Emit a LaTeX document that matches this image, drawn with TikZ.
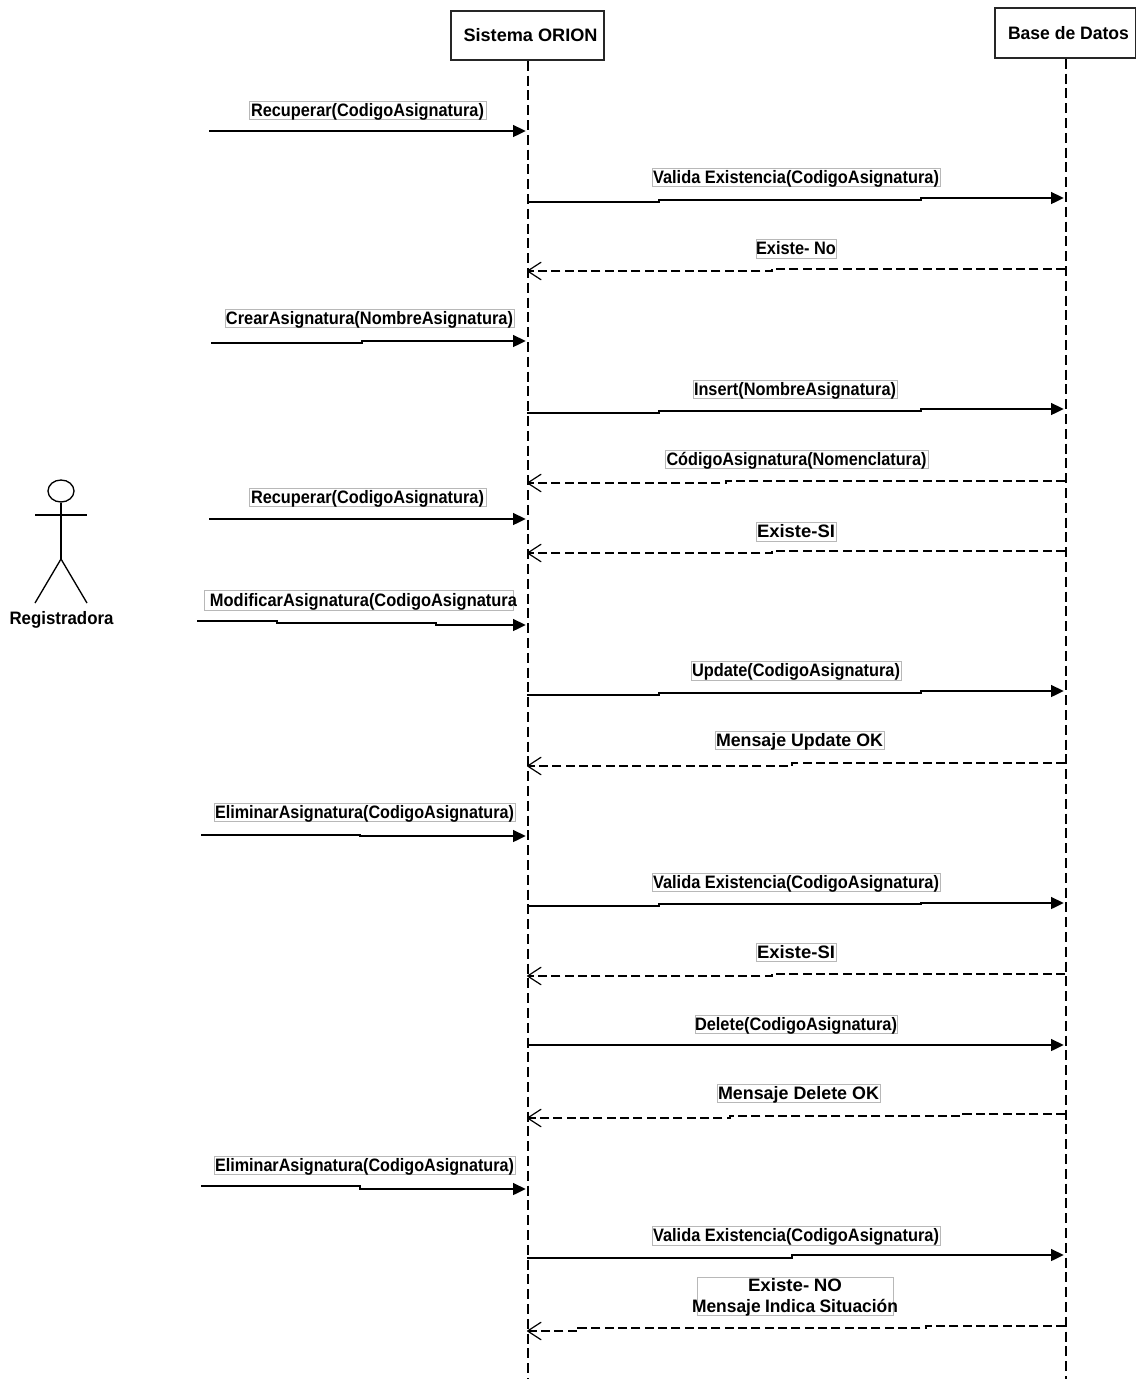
\documentclass[tikz,border=0pt]{standalone}
\usepackage{fontspec}
\usepackage{graphicx}
\setmainfont{Liberation Sans}
\usetikzlibrary{arrows.meta,shapes.geometric}
\newdimen\pxu \pxu=0.75pt
\newcommand{\fitw}[2]{\raisebox{-2\pxu}[\height][\depth]{\resizebox{#1\pxu}{\height}{\bfseries\fontsize{13.5}{15}\selectfont #2}}}
\newcommand{\labshift}{0pt}
\tikzset{
  head/.style={draw=black!85,line width=1.2pt,fill=white,inner sep=0pt},
  lifeline/.style={draw=black,line width=1.5pt,dash pattern=on 7.5pt off 3.6pt},
  sync/.style={draw=black,line width=1.2pt,shorten >=1pt,-{Triangle[length=9.5pt,width=9pt]}},
  reply/.style={draw=black,line width=1.2pt,dash pattern=on 6.8pt off 3.2pt,-{Straight Barb[length=10pt,width=13pt,line width=.9pt,round]}},
  msglabel/.style={draw=black!28,line width=.6pt,fill=white,inner sep=0pt,text=black},
  actorline/.style={draw=black,line width=1pt},
}
% one, two, three segment messages: style, id, coordinates
\newcommand{\msgone}[6]{%
  \coordinate (#2a) at (#3,#5); \coordinate (#2b) at (#4,#6);
  \draw[#1] (#2a) -- (#2b);}
\newcommand{\msgtwo}[7]{%
  \coordinate (#2a) at (#3,#6); \coordinate (#2j) at (#4,#6);
  \coordinate (#2k) at (#4,#7); \coordinate (#2b) at (#5,#7);
  \draw[#1] (#2a) -- (#2j) -- (#2k) -- (#2b);}
\newcommand{\msgthree}[9]{%
  \coordinate (#2a) at (#3,#7); \coordinate (#2j) at (#4,#7);
  \coordinate (#2k) at (#4,#8); \coordinate (#2l) at (#5,#8);
  \coordinate (#2m) at (#5,#9); \coordinate (#2b) at (#6,#9);
  \draw[#1] (#2a) -- (#2j) -- (#2k) -- (#2l) -- (#2m) -- (#2b);}
% label: id, left, right, top, bottom, text width, text
\newcommand{\msglab}[7]{%
  \node[msglabel,minimum width=\dimexpr#3\pxu-#2\pxu\relax,minimum height=\dimexpr#5\pxu-#4\pxu\relax,text height=11pt,text depth=2pt]
    (#1) at ({(#2+#3)/2},{(#4+#5)/2}) {\makebox[0pt]{\hspace*{\labshift}\raisebox{2\pxu}[\height][\depth]{\fitw{#6}{#7}}}};}
\begin{document}
\begin{tikzpicture}[x=0.75pt,y=-0.75pt]
\useasboundingbox (0,0) rectangle (1136,1379);
% lifelines
\node[head,minimum width=153\pxu,minimum height=49\pxu] (sis) at (527.5,35.5) {\makebox[0pt]{\hspace*{6\pxu}\raisebox{1.5pt}[\height][\depth]{\fitw{134}{Sistema ORION}}}};
\node[head,minimum width=141\pxu,minimum height=50\pxu] (bd) at (1065.5,33) {\makebox[0pt]{\hspace*{6\pxu}\raisebox{1.5pt}[\height][\depth]{\fitw{121}{Base de Datos}}}};
\coordinate (sisend) at (527.5,1379);
\coordinate (bdend) at (1065.5,1379);
\draw[lifeline] (sis.south) -- (sisend);
\draw[lifeline] (bd.south) -- (bdend);
% actor
\node[ellipse,draw=black,line width=1pt,minimum width=26\pxu,minimum height=22\pxu,inner sep=0pt] (acthead) at (61,491) {};
\coordinate (hip) at (61,559);
\coordinate (armL) at (35,515); \coordinate (armR) at (87,515);
\coordinate (legL) at (35,603); \coordinate (legR) at (87,603);
\draw[actorline] (acthead.south) -- (hip);
\draw[actorline] (armL) -- (armR);
\draw[actorline] (legL) -- (hip) -- (legR);
\node[inner sep=0pt] (actname) at (61.5,618) {\fitw{104}{Registradora}};
% messages
\msgone{sync}{ma}{209}{527}{131}{131}
\msglab{la}{249}{486}{101}{119}{233}{Recuperar(CodigoAsignatura)}
\msgthree{sync}{mb}{527}{659}{921}{1065}{202}{200}{198}
\msglab{lb}{652}{940}{168}{186}{286}{Valida Existencia(CodigoAsignatura)}
\msgtwo{reply}{mc}{1065}{772}{527}{269}{271}
\msglab{lc}{756}{836}{239}{258}{80}{Existe- No}
\msgtwo{sync}{md}{211}{362}{527}{343}{341}
\msglab{ld}{225}{514}{309}{327}{287}{CrearAsignatura(NombreAsignatura)}
\msgthree{sync}{me}{527}{659}{921}{1065}{413}{411}{409}
\msglab{le}{693}{897}{380}{398}{202}{Insert(NombreAsignatura)}
\msgtwo{reply}{mf}{1065}{726}{527}{481}{483}
\msglab{lf}{665}{928}{450}{468}{260}{CódigoAsignatura(Nomenclatura)}
\msgone{sync}{mg}{209}{527}{519}{519}
\msglab{lg}{249}{486}{488}{506}{233}{Recuperar(CodigoAsignatura)}
\msgtwo{reply}{mh}{1065}{772}{527}{551}{553}
\msglab{lh}{756}{836}{522}{541}{78}{Existe-SI}
\msgthree{sync}{mi}{197}{277}{436}{527}{621}{623}{625}
\renewcommand{\labshift}{10\pxu}
\msglab{li}{204}{513}{590}{610}{307}{ModificarAsignatura(CodigoAsignatura}
\renewcommand{\labshift}{0pt}
\msgthree{sync}{mj}{527}{659}{921}{1065}{695}{693}{691}
\msglab{lj}{691}{901}{661}{680}{208}{Update(CodigoAsignatura)}
\msgtwo{reply}{mk}{1065}{792}{527}{763}{766}
\msglab{lk}{715}{884}{731}{749}{167}{Mensaje Update OK}
\msgtwo{sync}{ml}{201}{360}{527}{835}{836}
\msglab{ll}{214}{515}{803}{821}{299}{EliminarAsignatura(CodigoAsignatura)}
\msgthree{sync}{mm}{527}{659}{921}{1065}{906}{904}{903}
\msglab{lm}{652}{940}{873}{891}{286}{Valida Existencia(CodigoAsignatura)}
\msgtwo{reply}{mn}{1065}{772}{527}{974}{976}
\msglab{ln}{756}{836}{943}{961}{78}{Existe-SI}
\msgone{sync}{mo}{527}{1065}{1045}{1045}
\msglab{lo}{695}{897}{1015}{1033}{202}{Delete(CodigoAsignatura)}
\msgthree{reply}{mp}{1065}{963}{730}{527}{1114}{1116}{1118}
\msglab{lp}{717}{880}{1084}{1102}{161}{Mensaje Delete OK}
\msgtwo{sync}{mq}{201}{360}{527}{1186}{1189}
\msglab{lq}{214}{515}{1156}{1174}{299}{EliminarAsignatura(CodigoAsignatura)}
\msgtwo{sync}{mr}{527}{792}{1065}{1258}{1255}
\msglab{lr}{652}{940}{1226}{1245}{286}{Valida Existencia(CodigoAsignatura)}
\msgthree{reply}{ms}{1065}{926}{578}{527}{1326}{1328}{1331}
\node[msglabel,minimum width=196\pxu,minimum height=38\pxu,text width=196\pxu,align=center] (ls) at (795,1296)
  {\makebox[\linewidth][c]{\raisebox{1\pxu}[\height][\depth]{\fitw{94}{Existe- NO}}}\\[2.8pt]\makebox[\linewidth][c]{\fitw{206}{Mensaje Indica Situación}}};
\end{tikzpicture}
\end{document}
